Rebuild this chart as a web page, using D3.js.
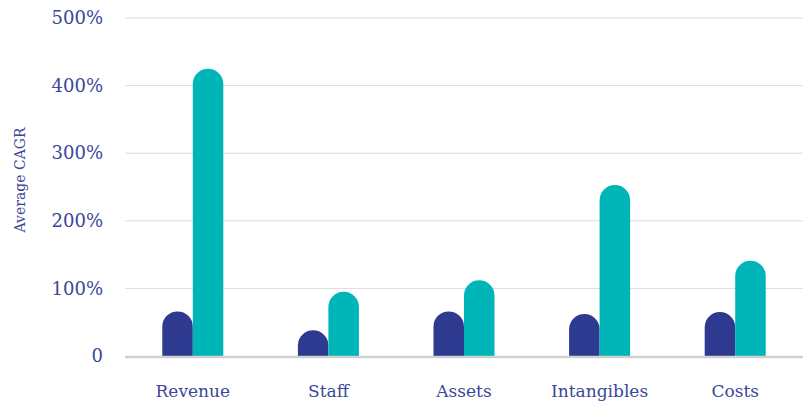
<!DOCTYPE html>
<html>
<head>
<meta charset="utf-8">
<script src="https://cdn.jsdelivr.net/npm/d3@7"></script>
<style>
  body { margin: 0; background: #fff; }
  .tick text { font-family: "DejaVu Serif", serif; fill: #3a4799; }
</style>
</head>
<body>
<div id="chart"></div>
<script>
// Chart data
var categories = ["Revenue", "Staff", "Assets", "Intangibles", "Costs"];
var seriesNames = ["before", "after"];
var darkValues = [66, 38, 66, 62, 65];
var tealValues = [425, 95, 112, 253, 141];
var yTicks = [0, 100, 200, 300, 400, 500];

var svgWidth = 804;
var svgHeight = 404;

var margin = { top: 18, right: 1, bottom: 48, left: 125 };
var width = svgWidth - margin.left - margin.right;
var height = svgHeight - margin.top - margin.bottom;

var colors = { before: "#2d3a8f", after: "#00b5b8" };

var svg = d3.select("#chart")
  .append("svg")
  .attr("width", svgWidth)
  .attr("height", svgHeight);

var chartGroup = svg.append("g")
  .attr("transform", `translate(${margin.left}, ${margin.top})`);

var data = categories.map(function(c, i) {
  return { cat: c, before: darkValues[i], after: tealValues[i] };
});

// Scales
var xScale = d3.scaleBand()
  .domain(categories)
  .range([0, width])
  .paddingInner(0.55)
  .paddingOuter(0.275);

var xInner = d3.scaleBand()
  .domain(seriesNames)
  .range([0, xScale.bandwidth()]);

var yScale = d3.scaleLinear()
  .domain([0, 500])
  .range([height, 0]);

// Grid lines
chartGroup.append("g")
  .selectAll("line")
  .data(yTicks.filter(d => d > 0))
  .enter()
  .append("line")
  .attr("x1", 0)
  .attr("x2", width)
  .attr("y1", d => yScale(d))
  .attr("y2", d => yScale(d))
  .attr("stroke", "#dcdcdc")
  .attr("stroke-width", 1);

// Y axis labels
var leftAxis = d3.axisLeft(yScale)
  .tickValues(yTicks)
  .tickSize(0)
  .tickPadding(22)
  .tickFormat(d => d === 0 ? "0" : d + "%");

chartGroup.append("g")
  .call(leftAxis)
  .call(g => g.select(".domain").remove())
  .selectAll("text")
  .style("font-size", "18px");

// Rounded-top bar path
function barPath(x, y, w, h) {
  var r = Math.min(w / 2, h);
  return `M${x},${y + h}` +
    `L${x},${y + r}` +
    `A${r},${r} 0 0 1 ${x + r},${y}` +
    `L${x + w - r},${y}` +
    `A${r},${r} 0 0 1 ${x + w},${y + r}` +
    `L${x + w},${y + h}Z`;
}

var groups = chartGroup.selectAll(".cat")
  .data(data)
  .enter()
  .append("g")
  .attr("class", "cat")
  .attr("transform", d => `translate(${xScale(d.cat)}, 0)`);

groups.selectAll("path")
  .data(d => seriesNames.map(s => ({ key: s, value: d[s] })))
  .enter()
  .append("path")
  .attr("d", d => barPath(xInner(d.key), yScale(d.value), xInner.bandwidth(), height - yScale(d.value)))
  .attr("fill", d => colors[d.key]);

// Baseline
chartGroup.append("line")
  .attr("x1", 0)
  .attr("x2", width)
  .attr("y1", height + 1)
  .attr("y2", height + 1)
  .attr("stroke", "#d0d0d0")
  .attr("stroke-width", 2.5);

// X axis labels
var bottomAxis = d3.axisBottom(xScale).tickSize(0).tickPadding(29);
chartGroup.append("g")
  .attr("transform", `translate(0, ${height})`)
  .call(bottomAxis)
  .call(g => g.select(".domain").remove())
  .selectAll("text")
  .style("font-size", "17px");

// Y axis title
svg.append("text")
  .attr("transform", "rotate(-90)")
  .attr("x", -180)
  .attr("y", 25)
  .attr("text-anchor", "middle")
  .style("font-family", "DejaVu Serif, serif")
  .style("font-size", "14px")
  .style("fill", "#3a4799")
  .text("Average CAGR");
</script>
</body>
</html>
